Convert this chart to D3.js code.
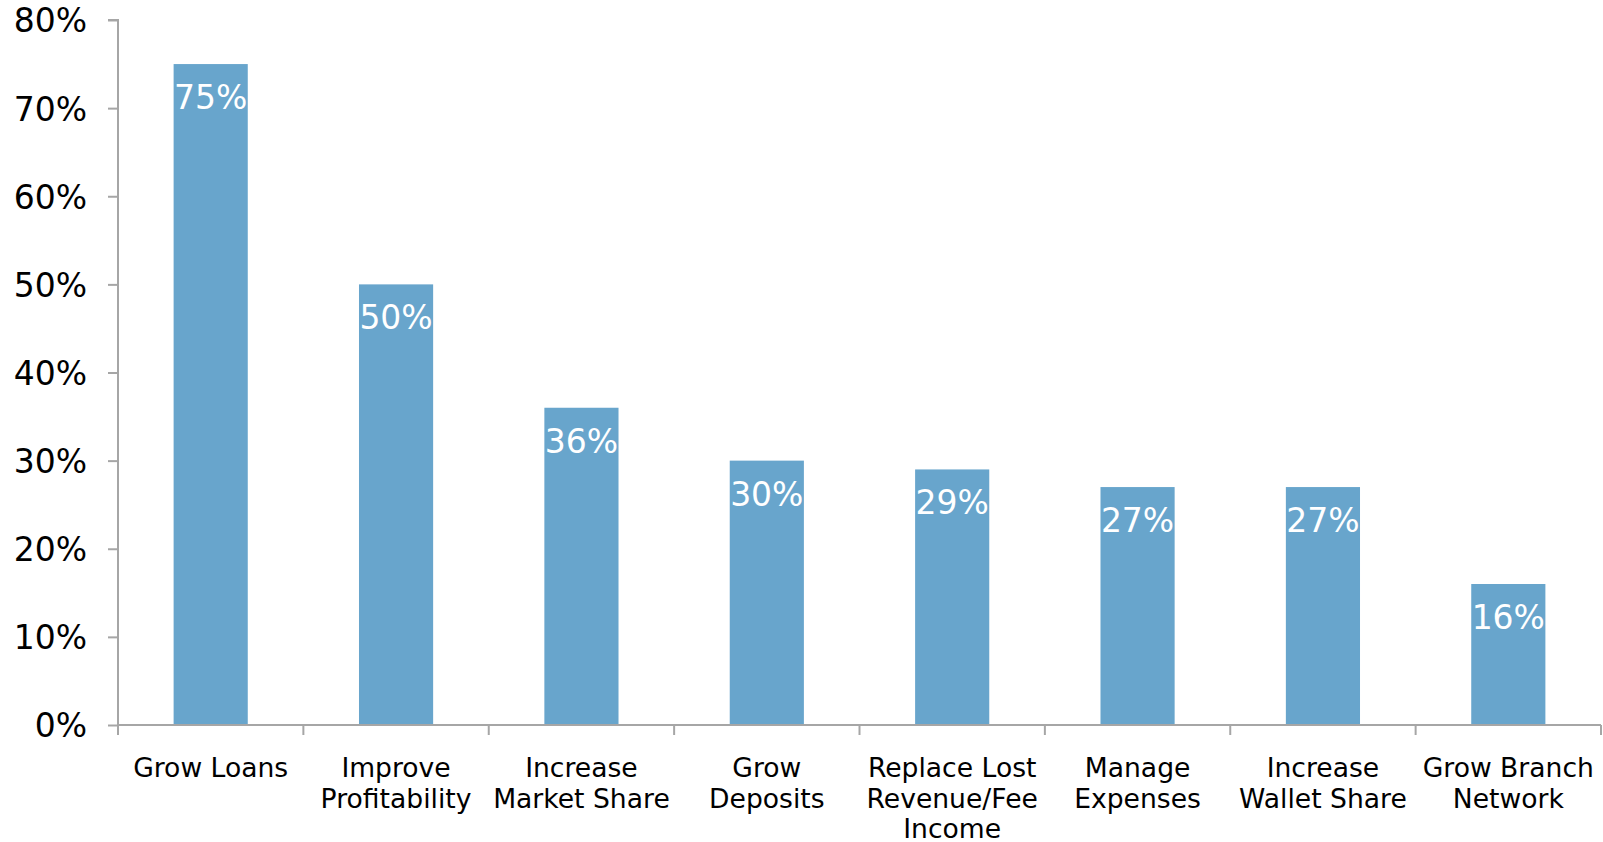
<!DOCTYPE html>
<html>
<head>
<meta charset="utf-8">
<script src="https://cdn.jsdelivr.net/npm/d3@7"></script>
<style>
  html, body { margin: 0; padding: 0; background: #fff; }
  svg { display: block; font-family: "DejaVu Sans", Verdana, sans-serif; }
</style>
</head>
<body>
<div id="chart"></div>
<script>
// categories (line breaks as in the original)
const categories = [
    "Grow Loans",
    "Improve\nProfitability",
    "Increase\nMarket Share",
    "Grow\nDeposits",
    "Replace Lost\nRevenue/Fee\nIncome",
    "Manage\nExpenses",
    "Increase\nWallet Share",
    "Grow Branch\nNetwork"
]
const values = [75, 50, 36, 30, 29, 27, 27, 16]
const yTicks = [0, 10, 20, 30, 40, 50, 60, 70, 80]

const width = 1603, height = 842
const margin = { top: 20, right: 2, bottom: 117, left: 118 }

const svg = d3.select("#chart").append("svg")
    .attr("width", width)
    .attr("height", height)

// x scale: one band per category, ticks at the band edges
const x = d3.scaleBand()
    .domain(categories)
    .range([margin.left, width - margin.right])
    .padding(0)

const y = d3.scaleLinear()
    .domain([0, 80])
    .range([height - margin.bottom, margin.top])

const axisColor = "#a6a6a6"
const barW = x.bandwidth() * 0.4

// bars
svg.append("g")
    .selectAll("rect")
    .data(values)
    .join("rect")
    .attr("x", (d, i) => x(categories[i]) + (x.bandwidth() - barW) / 2)
    .attr("y", d => y(d))
    .attr("width", barW)
    .attr("height", d => y(0) - y(d))
    .attr("fill", "#68a5cc")

// value labels inside the bars
svg.append("g")
    .selectAll("text")
    .data(values)
    .join("text")
    .attr("x", (d, i) => x(categories[i]) + x.bandwidth() / 2)
    .attr("y", d => y(d) + 45)
    .attr("text-anchor", "middle")
    .attr("fill", "#fff")
    .style("font-size", "33px")
    .text(d => d + "%")

// y axis
const yAxis = svg.append("g")
    .attr("transform", `translate(${margin.left},0)`)
    .call(d3.axisLeft(y).tickValues(yTicks).tickFormat(d => d + "%").tickSize(10).tickPadding(21))
yAxis.select(".domain").attr("stroke", axisColor).attr("stroke-width", 2)
    .attr("d", `M-10,${y(80)}H0V${y(0)}`)
yAxis.selectAll(".tick line").attr("stroke", axisColor).attr("stroke-width", 2)
yAxis.selectAll(".tick text")
    .attr("fill", "#000")
    .style("font-size", "33px")
    .style("font-family", "DejaVu Sans, Verdana, sans-serif")
    .attr("dy", "0.36em")

// x axis: ticks at the band boundaries
const xEdges = categories.map(c => x(c)).concat([x.range()[1]])
const xAxis = svg.append("g")
xAxis.append("line")
    .attr("x1", margin.left)
    .attr("x2", width - margin.right)
    .attr("y1", y(0))
    .attr("y2", y(0))
    .attr("stroke", axisColor)
    .attr("stroke-width", 2)
xAxis.selectAll(".xtick")
    .data(xEdges)
    .join("line")
    .attr("class", "xtick")
    .attr("x1", d => d)
    .attr("x2", d => d)
    .attr("y1", y(0))
    .attr("y2", y(0) + 10)
    .attr("stroke", axisColor)
    .attr("stroke-width", 2)

// category labels
const labels = svg.append("g")
    .selectAll("text")
    .data(categories)
    .join("text")
    .attr("x", d => x(d) + x.bandwidth() / 2)
    .attr("y", y(0) + 52)
    .attr("text-anchor", "middle")
    .attr("fill", "#000")
    .style("font-size", "26.6px")
labels.selectAll("tspan")
    .data(d => d.split("\n"))
    .join("tspan")
    .attr("x", function () { return this.parentNode.getAttribute("x") })
    .attr("dy", (d, i) => i === 0 ? 0 : 30.5)
    .text(d => d)
</script>
</body>
</html>
